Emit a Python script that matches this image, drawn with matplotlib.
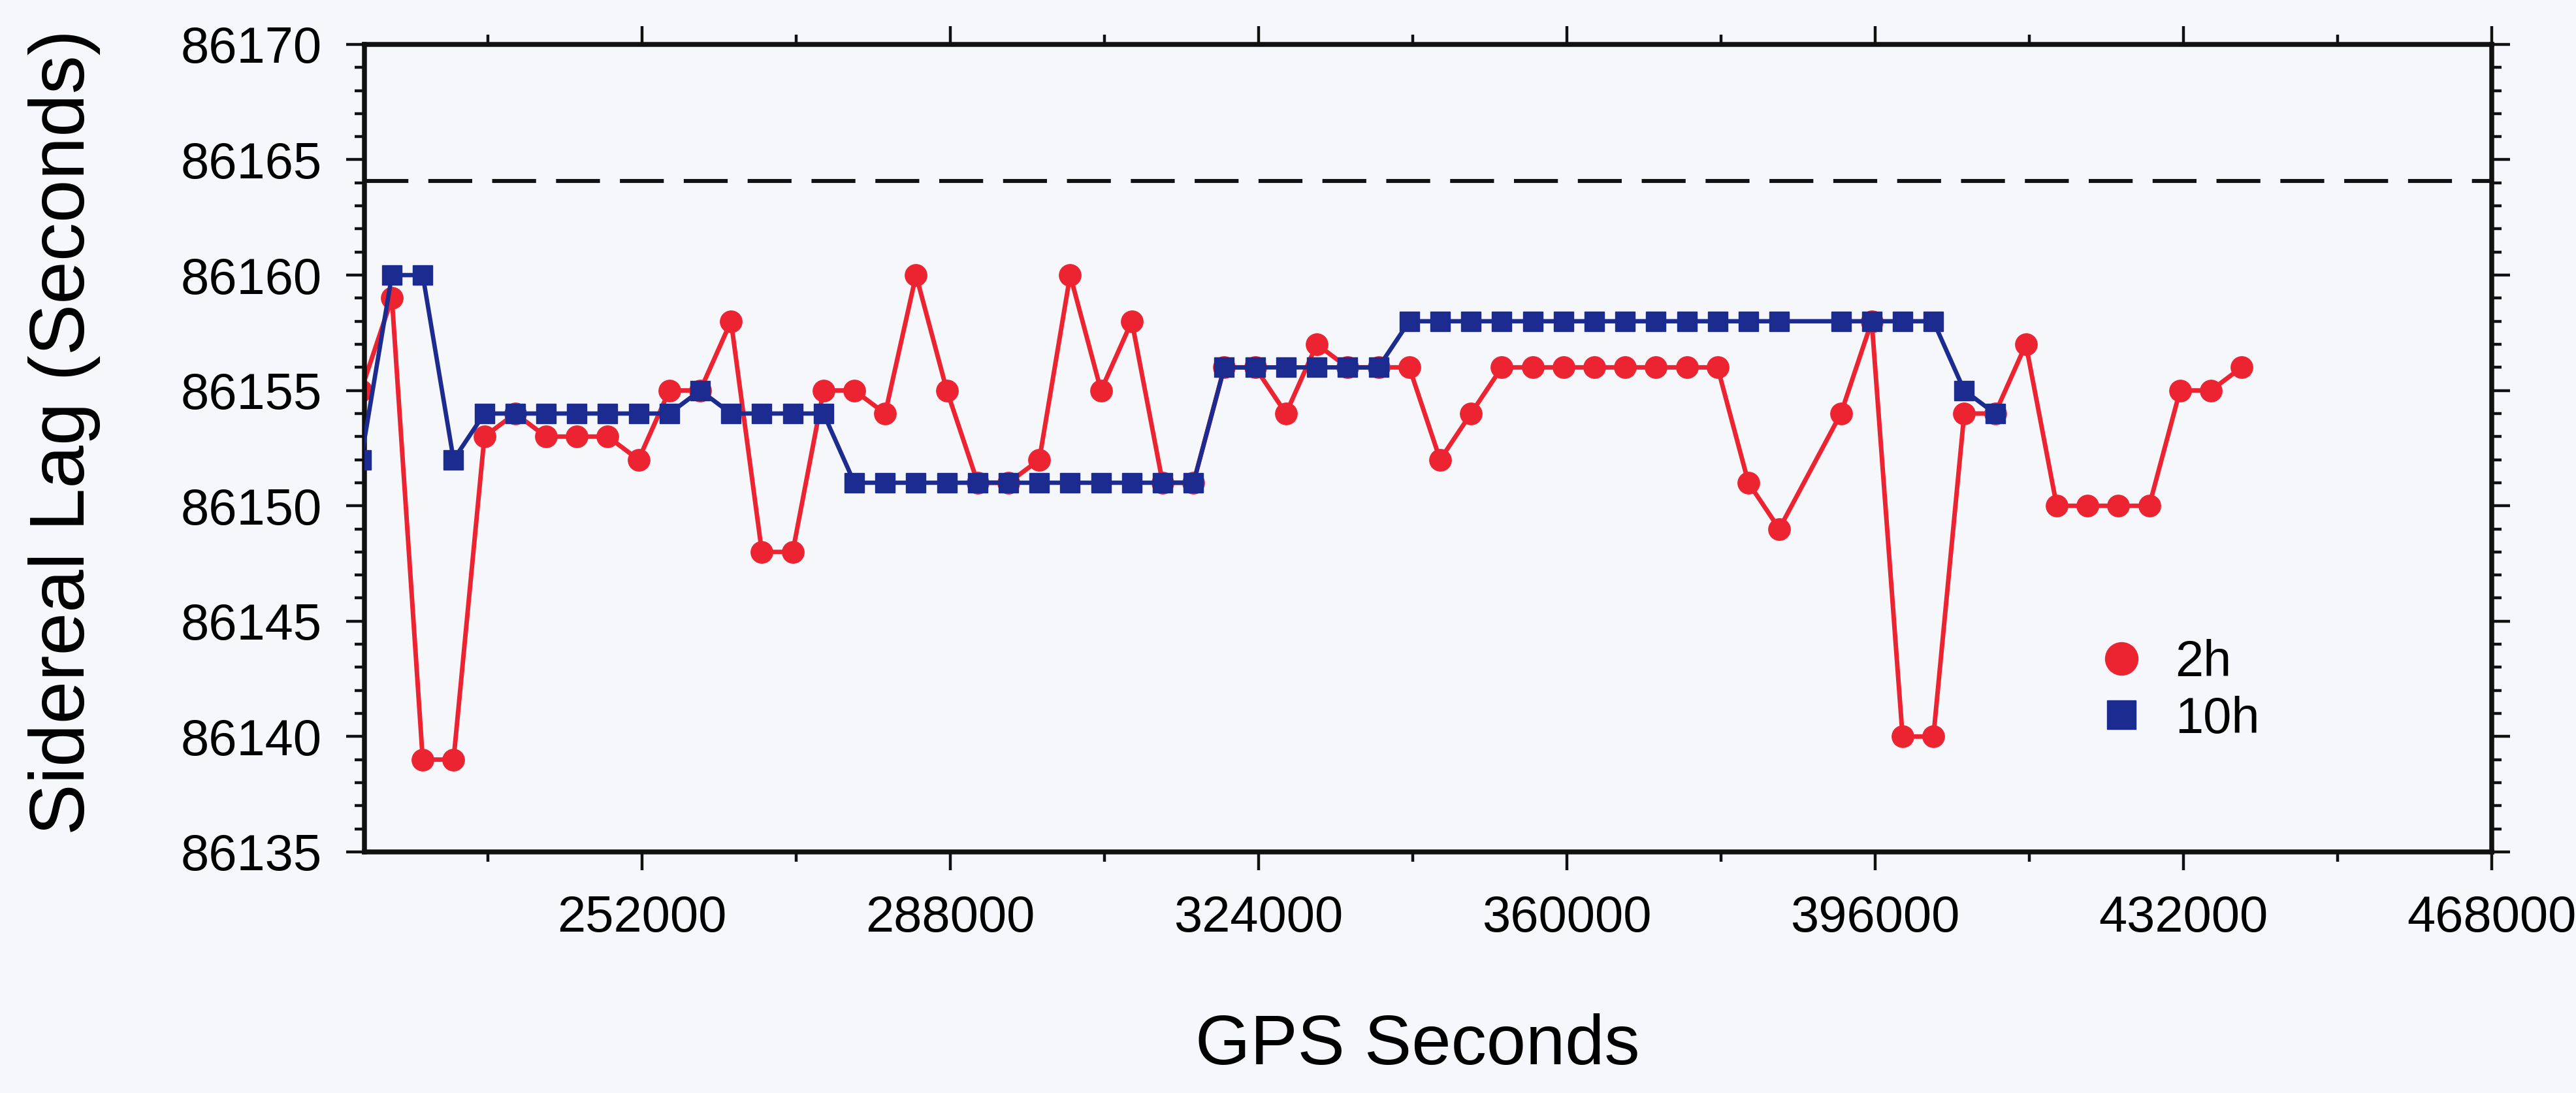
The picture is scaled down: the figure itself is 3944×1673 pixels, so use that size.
import matplotlib.pyplot as plt
from matplotlib.lines import Line2D
from matplotlib.ticker import MultipleLocator, FormatStrFormatter

plt.rcParams['font.family'] = ['Liberation Sans', 'DejaVu Sans']

# hourly solution epochs (GPS seconds)
gps_time = [219200, 222800, 226400, 230000, 233600, 237200, 240800, 244400,
            248000, 251600, 255200, 258800, 262400, 266000, 269600, 273200,
            276800, 280400, 284000, 287600, 291200, 294800, 298400, 302000,
            305600, 309200, 312800, 316400, 320000, 323600, 327200, 330800,
            334400, 338000, 341600, 345200, 348800, 352400, 356000, 359600,
            363200, 366800, 370400, 374000, 377600, 381200, 384800, 388400,
            392000, 395600, 399200, 402800, 406400, 410000, 413600, 417200,
            420800, 424400, 428000, 431600, 435200, 438800]

# sidereal lag from 2 h windows (None = no solution)
lag_2h = [86155, 86159, 86139, 86139, 86153, 86154, 86153, 86153,
          86153, 86152, 86155, 86155, 86158, 86148, 86148, 86155,
          86155, 86154, 86160, 86155, 86151, 86151, 86152, 86160,
          86155, 86158, 86151, 86151, 86156, 86156, 86154, 86157,
          86156, 86156, 86156, 86152, 86154, 86156, 86156, 86156,
          86156, 86156, 86156, 86156, 86156, 86151, 86149, None,
          86154, 86158, 86140, 86140, 86154, 86154, 86157, 86150,
          86150, 86150, 86150, 86155, 86155, 86156]

# sidereal lag from 10 h windows
lag_10h = [86152, 86160, 86160, 86152, 86154, 86154, 86154, 86154,
           86154, 86154, 86154, 86155, 86154, 86154, 86154, 86154,
           86151, 86151, 86151, 86151, 86151, 86151, 86151, 86151,
           86151, 86151, 86151, 86151, 86156, 86156, 86156, 86156,
           86156, 86156, 86158, 86158, 86158, 86158, 86158, 86158,
           86158, 86158, 86158, 86158, 86158, 86158, 86158, None,
           86158, 86158, 86158, 86158, 86155, 86154]

sidereal_day = 86164.0905

x_ticks = [252000, 288000, 324000, 360000, 396000, 432000, 468000]

red = '#ec2431'
blue = '#1b2b8f'
bg = '#f6f7fb'


def valid(xs, ys):
    pts = [(x, y) for x, y in zip(xs, ys) if y is not None]
    return [p[0] for p in pts], [p[1] for p in pts]


fig = plt.figure(figsize=(39.44, 16.73), dpi=100, facecolor=bg)
ax = fig.add_axes([0.1415, 0.2206, 0.8258, 0.7388], facecolor=bg)

x2, y2 = valid(gps_time, lag_2h)
x10, y10 = valid(gps_time, lag_10h)

ax.axhline(sidereal_day, color='#111111', lw=4.4, dashes=(11, 5), zorder=1)
ax.plot(x2, y2, color=red, lw=5.0, marker='o', ms=24, zorder=2)
ax.plot(x10, y10, color=blue, lw=4.8, marker='s', ms=21, zorder=3)

ax.set_xlim(219600, 468000)
ax.set_ylim(86135, 86170)

ax.set_xticks(x_ticks)
ax.xaxis.set_minor_locator(MultipleLocator(18000))
ax.xaxis.set_major_formatter(FormatStrFormatter('%d'))
ax.yaxis.set_major_locator(MultipleLocator(5))
ax.yaxis.set_minor_locator(MultipleLocator(1))
ax.yaxis.set_major_formatter(FormatStrFormatter('%d'))

ax.tick_params(which='both', direction='out', top=True, right=True,
               color='#111111', width=3.2)
ax.tick_params(which='major', length=20, pad=27, labelsize=56)
ax.tick_params(which='minor', length=11)
for s in ax.spines.values():
    s.set_linewidth(5.4)
    s.set_color('#111111')

ax.set_xlabel('GPS Seconds', fontsize=78)
ax.set_ylabel('Sidereal Lag (Seconds)', fontsize=85)
ax.xaxis.set_label_coords(0.495, -0.2)
ax.yaxis.set_label_coords(-0.124, 0.52)

handles = [Line2D([], [], ls='none', marker='o', ms=36, color=red),
           Line2D([], [], ls='none', marker='s', ms=31, color=blue)]
ax.legend(handles, ['2h', '10h'], loc='center left',
          bbox_to_anchor=(0.8141, 0.199), frameon=False, fontsize=56,
          handlelength=1.0, handletextpad=0.55, labelspacing=0.17,
          borderpad=0, borderaxespad=0)

fig.savefig('out.png', dpi=100, facecolor=bg)
